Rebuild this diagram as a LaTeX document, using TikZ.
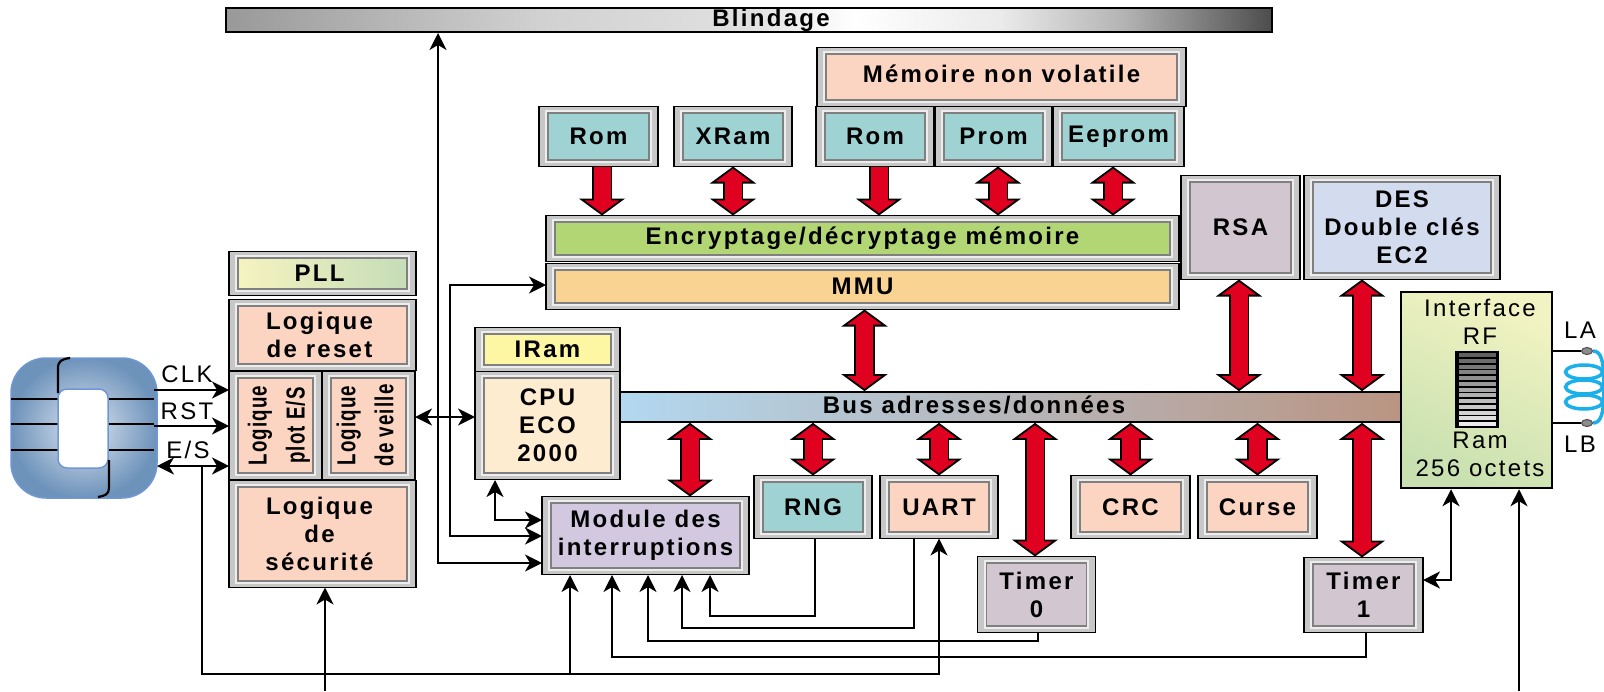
\documentclass[tikz,border=0pt]{standalone}
\usepackage{fontspec}
\setmainfont[LetterSpace=9.5]{Liberation Sans}
\newfontfamily\narrowfont[FakeStretch=0.72,LetterSpace=4.5]{Liberation Sans}
\usetikzlibrary{arrows.meta}
\usetikzlibrary{shapes.geometric}
\definecolor{peach}{HTML}{FBD5C1}
\definecolor{sea}{HTML}{9FD3D3}
\definecolor{leaf}{HTML}{B2D673}
\definecolor{melon}{HTML}{F9D392}
\definecolor{mauve}{HTML}{D2C7D0}
\definecolor{skyblue}{HTML}{D3DCEE}
\definecolor{lilac}{HTML}{D2C9E0}
\definecolor{cream}{HTML}{FDECD0}
\definecolor{lemon}{HTML}{FDF7A3}
\definecolor{arrowred}{HTML}{E0001F}
\definecolor{chipblue}{HTML}{6F97D6}
\definecolor{chipedge}{HTML}{6E93BB}
\definecolor{chipmid}{HTML}{DDE6F0}
\definecolor{coilblue}{HTML}{1CB0EA}
\definecolor{busleft}{HTML}{B2D8F0}
\definecolor{busmid}{HTML}{B8C4CC}
\definecolor{busright}{HTML}{BA9482}
\definecolor{rftop}{HTML}{F2F3C2}
\definecolor{rfbottom}{HTML}{C8E0B0}
\definecolor{pllleft}{HTML}{F6F3C0}
\definecolor{pllright}{HTML}{C5DDB8}
\pgfdeclarehorizontalshading{blindshade}{100bp}{
    color(0bp)=(black!40); color(25bp)=(black!40); color(40bp)=(black!18);
    color(50bp)=(black!12); color(55bp)=(white); color(62bp)=(black!8); color(68bp)=(black!30); color(75bp)=(black!70); color(100bp)=(black!70)}
\tikzset{
    boldtext/.style={font=\fontsize{24}{28}\selectfont\bfseries, align=center, inner sep=0pt},
    plaintext/.style={font=\fontsize{24}{28}\selectfont, align=center, inner sep=0pt},
    sidetext/.style={font=\narrowfont\fontsize{26}{38}\selectfont\bfseries, align=center, inner sep=0pt, rotate=90},
    cellrim/.style={draw=black, line width=1.7pt, fill=black!22, inner sep=0pt, outer sep=0pt},
    cellface/.style={boldtext, draw=black!50, line width=1.5pt, preaction={draw=black!7, line width=5.5pt}},
    wire/.style={line width=1.7pt, >={Stealth[length=17pt,width=17pt,inset=5pt]}},
    redway/.style={double=arrowred, double distance=17pt, line width=1.8pt,
        >={Triangle[length=17pt,width=46pt,fill=arrowred,color=black,line width=1.8pt]},
        postaction={draw=arrowred, line width=17pt, -, shorten >=14pt, shorten <=14pt}},
    chipline/.style={line width=1.5pt},
    bracket/.style={line width=2.2pt},
    coil/.style={draw=coilblue, line width=3.5pt},
    contact/.style={ellipse, draw=black!70, fill=black!45, line width=1pt, minimum width=11pt, minimum height=7pt, inner sep=0pt}
}
\newcommand{\cellbox}[6]{
    \node[cellrim, minimum width=#3pt+18pt, minimum height=#4pt+13pt] (#1) at (#2) {};
    \node[cellface, #5, minimum width=#3pt, minimum height=#4pt] (#1face) at (#2) {#6};
}

\begin{document}
\begin{tikzpicture}[x=1pt, y=-1pt]

    \useasboundingbox (0,0) rectangle (1604,691);

    \node[draw=black, line width=1.7pt, shading=blindshade, minimum width=1046pt, minimum height=24pt, inner sep=0pt] (shield) at (749,20) {};
    \node[boldtext] (shieldtext) at (771,20) {Blindage};

    \node[rectangle, rounded corners=35pt, draw=chipblue, line width=1.5pt, inner color=chipmid, outer color=chipedge, minimum width=146pt, minimum height=140pt] (chip) at (84,428) {};
    \foreach \y in {399,424,450} {
        \draw[chipline] (11,\y) -- (58,\y);
        \draw[chipline] (108,\y) -- (154,\y);
    }
    \node[rectangle, rounded corners=9pt, draw=chipblue, line width=1.5pt, fill=white, minimum width=50pt, minimum height=79pt] (chiphole) at (83,428.5) {};
    \draw[bracket] (58,393) -- (58,368) .. controls (58,361) and (62,359) .. (70,358);
    \draw[bracket] (109,460) -- (109,488) .. controls (109,494) and (105,496) .. (98,497);

    \cellbox{pll}{322.5,273.5}{169}{31}{left color=pllleft, right color=pllright}{}
    \cellbox{reset}{322.5,335}{169}{58}{fill=peach}{}
    \cellbox{plot}{275.5,425.5}{75}{95}{fill=peach}{}
    \cellbox{veille}{368.5,425.5}{75}{95}{fill=peach}{}
    \cellbox{secu}{322.5,534}{169}{94}{fill=peach}{}
    \node[boldtext] (plltext) at (319.5,273.5) {PLL};
    \node[boldtext] (resettext) at (319.5,335) {Logique\\de reset};
    \node[boldtext] (secutext) at (319.5,534) {Logique\\de\\sécurité};
    \node[sidetext] (plottext) at (279,425.5) {Logique\\plot E/S};
    \node[sidetext] (veilletext) at (365,425.5) {Logique\\de veille};

    \node[draw=black, line width=1.7pt, left color=busleft, middle color=busmid, right color=busright, minimum width=785pt, minimum height=30pt, inner sep=0pt] (bus) at (1010,407) {};
    \node[boldtext] (bustext) at (974,405) {Bus adresses/données};

    \cellbox{iram}{547.5,349.5}{127}{31}{fill=lemon}{IRam}
    \cellbox{cpu}{547.5,425.5}{127}{95}{fill=cream}{CPU\\ECO\\2000}

    \cellbox{roma}{598.5,136.5}{101}{47}{fill=sea}{Rom}
    \cellbox{xram}{733,136.5}{100}{47}{fill=sea}{XRam}
    \cellbox{memo}{1001.5,77}{351}{46}{fill=peach}{\raisebox{7pt}{Mémoire non volatile}}
    \cellbox{romb}{875,136.5}{100}{47}{fill=sea}{Rom}
    \cellbox{prom}{993.5,136.5}{99}{47}{fill=sea}{Prom}
    \cellbox{eeprom}{1118.5,136.5}{113}{47}{fill=sea}{Eeprom}
    \cellbox{crypt}{862.5,238.5}{615}{33}{fill=leaf}{Encryptage/décryptage mémoire}
    \cellbox{mmu}{862.5,286.5}{615}{33}{fill=melon}{MMU}
    \cellbox{rsa}{1240.5,227.5}{101}{91}{fill=mauve}{RSA}
    \cellbox{des}{1402,227.5}{178}{91}{fill=skyblue}{DES\\Double clés\\EC2}

    \cellbox{irq}{645.5,535.5}{189}{65}{fill=lilac}{Module des\\interruptions}
    \cellbox{rng}{813,507}{100}{50}{fill=sea}{RNG}
    \cellbox{uart}{939,507}{100}{50}{fill=peach}{UART}
    \cellbox{crc}{1130.5,507}{101}{50}{fill=peach}{CRC}
    \cellbox{curse}{1257.5,507}{101}{50}{fill=peach}{Curse}
    \cellbox{timera}{1036.5,594.5}{100}{63}{fill=mauve}{Timer\\0}
    \cellbox{timerb}{1363.5,595}{101}{62}{fill=mauve}{Timer\\1}

    \node[draw=black, line width=2.5pt, top color=rftop, bottom color=rfbottom, shading angle=-25, minimum width=151pt, minimum height=196pt, inner sep=0pt] (rf) at (1476.5,390) {};
    \node[plaintext] (rfuptext) at (1480,322) {Interface\\RF};
    \node[plaintext] (rflowtext) at (1480,454) {Ram\\256 octets};
    \node[fill=black, minimum width=44pt, minimum height=77pt, inner sep=0pt] (ramstack) at (1477,389.5) {};
    \foreach \i in {0,...,12} {
        \pgfmathsetmacro{\shade}{62-4.5*\i}
        \fill[black!\shade] (1458.5,{353+5.75*\i}) rectangle (1495.5,{353+5.75*\i+4});
    }

    \node[contact] (ladot) at (1587,351) {};
    \node[contact] (lbdot) at (1587,423) {};
    \node[plaintext] (latext) at (1580,330) {LA};
    \node[plaintext] (lbtext) at (1580,444) {LB};
    \draw[line width=1.3pt] (ladot -| rf.east) -- (ladot);
    \draw[line width=1.3pt] (lbdot -| rf.east) -- (lbdot);
    \foreach \y in {372,387,402} {
        \draw[coil] (1584,\y) ellipse [x radius=18.5, y radius=7];
    }
    \draw[coil] (ladot.east) .. controls (1601,351) and (1604,360) .. (1604,387) .. controls (1604,414) and (1601,423) .. (lbdot.east);

    \node[plaintext] (clktext) at (187,374) {CLK};
    \node[plaintext] (rsttext) at (187,411) {RST};
    \node[plaintext] (estext) at (188,450) {E/S};

    \coordinate (clkin) at (154,390);
    \coordinate (rstin) at (154,426);
    \coordinate (esin) at (157,466);
    \coordinate (estap) at (202,466);
    \coordinate (esturn) at (202,674);
    \coordinate (secuin) at (325,691);
    \coordinate (rfin) at (1519,691);
    \coordinate (shieldtap) at (438,33);
    \coordinate (mmutap) at (450,285);
    \coordinate (cputap) at (495,480);
    \coordinate (midrow) at (445,417);
    \coordinate (irqa) at (570,575);
    \coordinate (irqb) at (612,575);
    \coordinate (irqc) at (648,575);
    \coordinate (irqd) at (682,575);
    \coordinate (irqe) at (710,575);

    \draw[wire,->] (clkin) -- (clkin -| plot.west);
    \draw[wire,->] (rstin) -- (rstin -| plot.west);
    \draw[wire,<->] (esin) -- (esin -| plot.west);
    \draw[wire,->] (estap) -- (esturn) -| (uart.south);
    \draw[wire,->] (irqa |- esturn) -- (irqa);
    \draw[wire,->] (secuin) -- (secuin |- secu.south);
    \draw[wire,<->] (midrow -| veille.east) -- (midrow -| cpu.west);
    \draw[wire,<->] (shieldtap) |- (irq.west |- 0,563);
    \draw[wire,<->] (mmu.west |- mmutap) -- (mmutap) |- (irq.west |- 0,536);
    \draw[wire,<->] (cputap) |- (irq.west |- 0,520);
    \draw[wire,->] ([xshift=2pt]rng.south) |- (irqe |- 0,616) -- (irqe);
    \draw[wire,->] ([xshift=-25pt]uart.south) |- (irqd |- 0,628) -- (irqd);
    \draw[wire,->] ([xshift=1.5pt]timera.south) |- (irqc |- 0,641) -- (irqc);
    \draw[wire,->] ([xshift=2.5pt]timerb.south) |- (irqb |- 0,657) -- (irqb);
    \draw[wire,<->] ([yshift=15pt]timerb.east) -| ([xshift=-25.5pt]rf.south);
    \draw[wire,->] (rfin) -- (rfin |- rf.south);

    \draw[redway,->] ([xshift=3.5pt]roma.south) -- ([xshift=3.5pt]roma.south |- crypt.north);
    \draw[redway,<->] (xram.south) -- (xram.south |- crypt.north);
    \draw[redway,->] ([xshift=4pt]romb.south) -- ([xshift=4pt]romb.south |- crypt.north);
    \draw[redway,<->] ([xshift=4.5pt]prom.south) -- ([xshift=4.5pt]prom.south |- crypt.north);
    \draw[redway,<->] ([xshift=-5.5pt]eeprom.south) -- ([xshift=-5.5pt]eeprom.south |- crypt.north);
    \draw[redway,<->] ([xshift=2pt]mmu.south) -- ([xshift=2pt]mmu.south |- bus.north);
    \draw[redway,<->] ([xshift=-1.5pt]rsa.south) -- ([xshift=-1.5pt]rsa.south |- bus.north);
    \draw[redway,<->] ([xshift=-40pt]des.south) -- ([xshift=-40pt]des.south |- bus.north);
    \draw[redway,<->] ([xshift=44.5pt]irq.north) -- ([xshift=44.5pt]irq.north |- bus.south);
    \draw[redway,<->] (rng.north) -- (rng.north |- bus.south);
    \draw[redway,<->] (uart.north) -- (uart.north |- bus.south);
    \draw[redway,<->] ([xshift=-1.5pt]timera.north) -- ([xshift=-1.5pt]timera.north |- bus.south);
    \draw[redway,<->] (crc.north) -- (crc.north |- bus.south);
    \draw[redway,<->] (curse.north) -- (curse.north |- bus.south);
    \draw[redway,<->] ([xshift=-1.5pt]timerb.north) -- ([xshift=-1.5pt]timerb.north |- bus.south);

\end{tikzpicture}
\end{document}
